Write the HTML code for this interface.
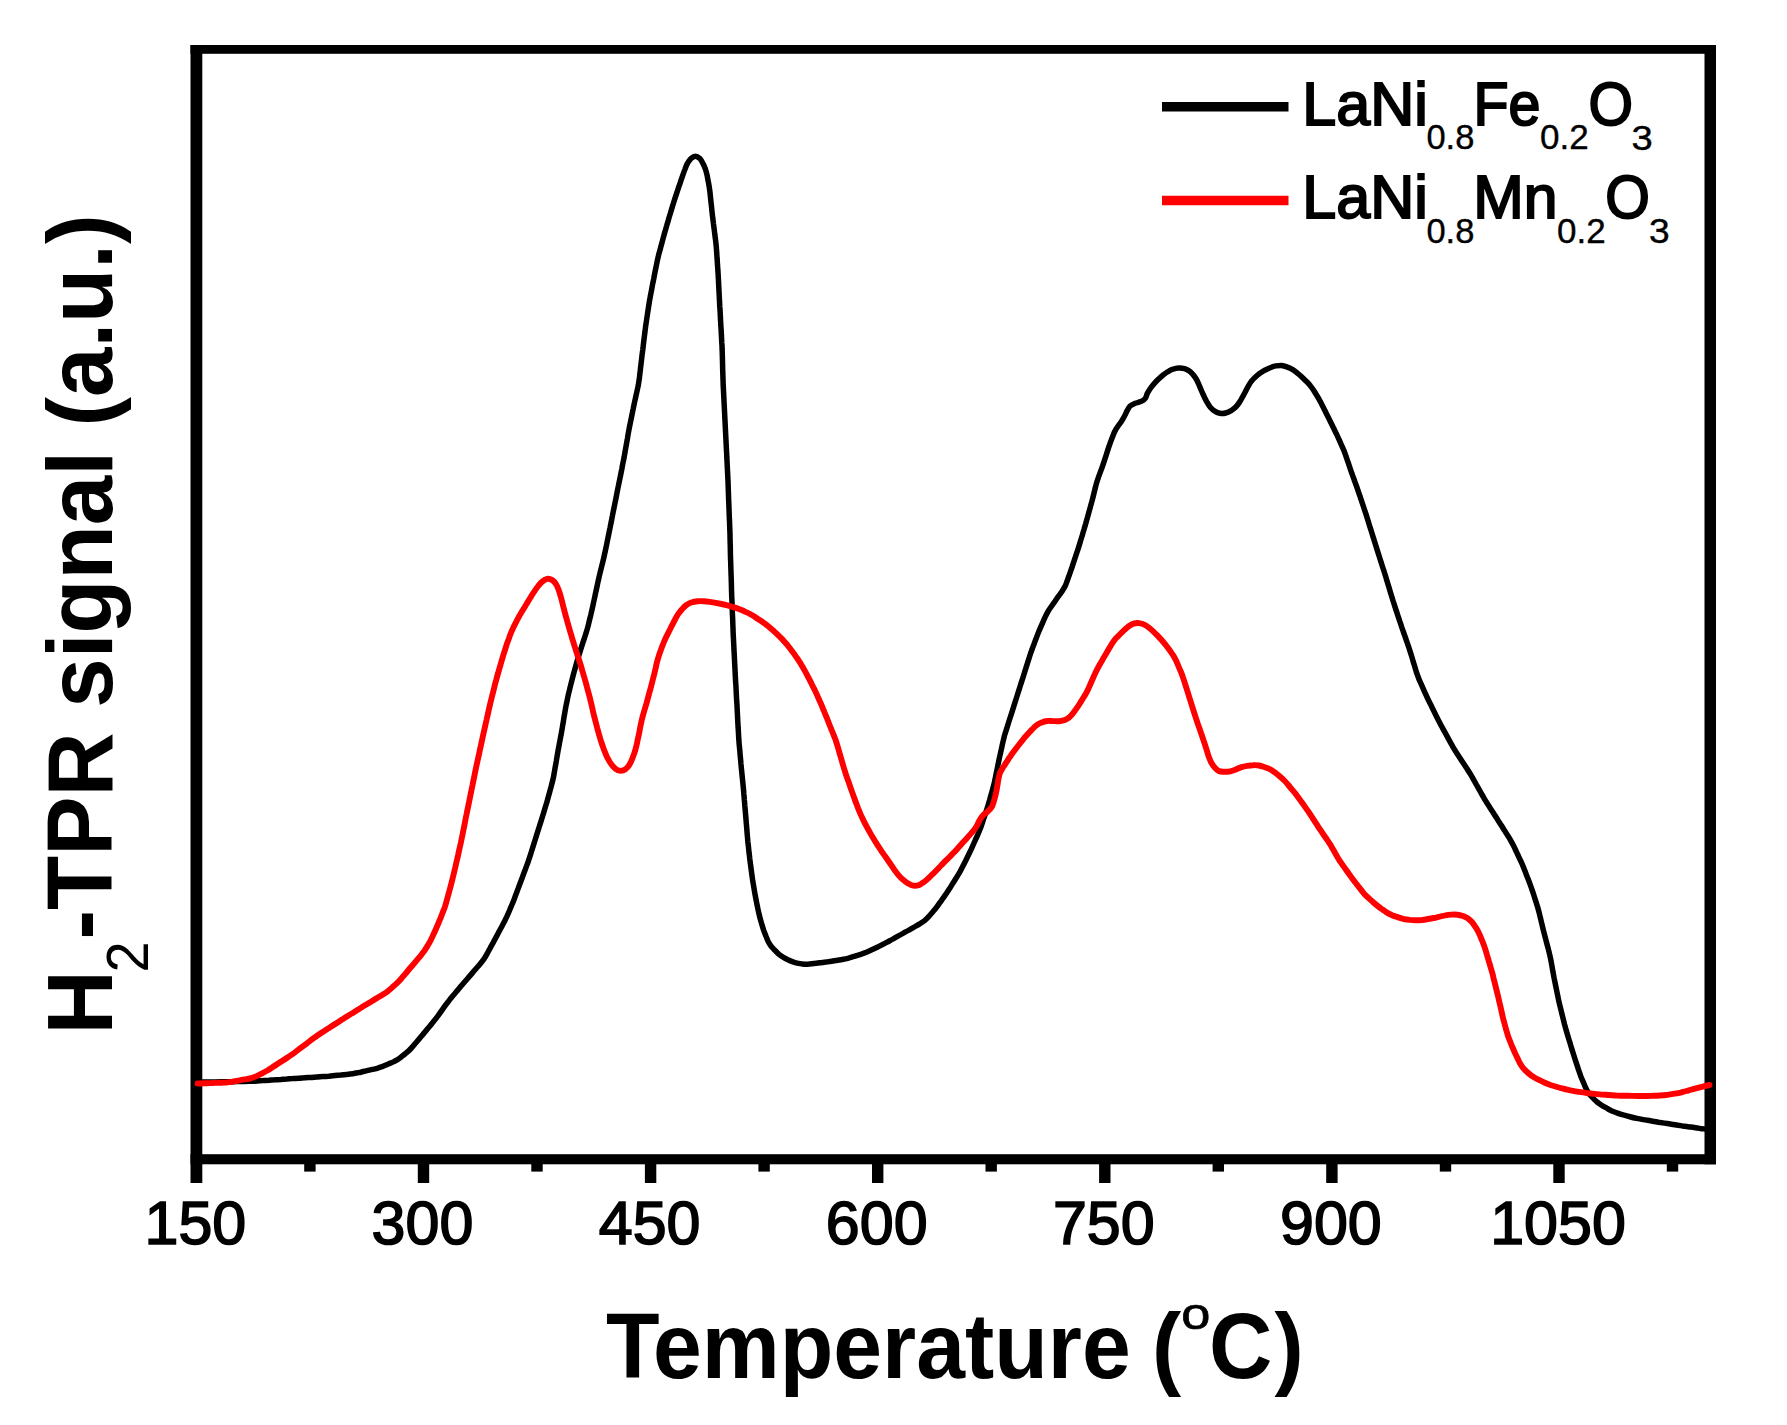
<!DOCTYPE html>
<html lang="en">
<head>
<meta charset="utf-8">
<title>H2-TPR profiles</title>
<style>
html,body{margin:0;padding:0;background:#fff;}
body{width:1787px;height:1425px;overflow:hidden;position:relative;font-family:"Liberation Sans",sans-serif;}
svg{position:absolute;left:0;top:0;display:block;}
text{font-family:"Liberation Sans",sans-serif;fill:#000;}
.tl{font-size:61px;text-anchor:middle;stroke:#000;stroke-width:1.6px;}
.ttl{font-size:88px;font-weight:bold;}
</style>
</head>
<body>
<svg width="1787" height="1425" viewBox="0 0 1787 1425">
<rect x="0" y="0" width="1787" height="1425" fill="#fff"/>
<g fill="#000">
<rect x="190.5" y="45" width="11.8" height="1138"/>
<rect x="1704.5" y="45" width="11.5" height="1119.3"/>
<rect x="190.5" y="45" width="1525.5" height="8.8"/>
<rect x="190.5" y="1154.2" width="1525.5" height="10.1"/>
<rect x="304.2" y="1160" width="11.4" height="11.6" />
<rect x="417.8" y="1160" width="11.4" height="23" />
<rect x="531.3" y="1160" width="11.4" height="11.6" />
<rect x="644.9" y="1160" width="11.4" height="23" />
<rect x="758.4" y="1160" width="11.4" height="11.6" />
<rect x="872.0" y="1160" width="11.4" height="23" />
<rect x="985.5" y="1160" width="11.4" height="11.6" />
<rect x="1099.1" y="1160" width="11.4" height="23" />
<rect x="1212.6" y="1160" width="11.4" height="11.6" />
<rect x="1326.2" y="1160" width="11.4" height="23" />
<rect x="1439.8" y="1160" width="11.4" height="11.6" />
<rect x="1553.3" y="1160" width="11.4" height="23" />
<rect x="1666.8" y="1160" width="11.4" height="11.6" />
</g>
<g fill="none" stroke-linejoin="round" stroke-linecap="round">
<path d="M197.0,1082.0C198.0,1082.0 201.0,1082.0 203.0,1082.0C205.0,1081.9 207.0,1081.9 209.0,1081.9C211.0,1081.9 213.0,1081.9 215.0,1081.9C217.0,1081.9 219.0,1081.9 221.0,1081.8C223.0,1081.8 225.0,1081.8 227.0,1081.8C229.0,1081.8 231.0,1081.7 233.0,1081.7C235.0,1081.6 237.0,1081.6 239.0,1081.5C241.0,1081.5 243.0,1081.4 245.0,1081.4C247.0,1081.3 249.0,1081.3 251.0,1081.2C253.0,1081.2 255.0,1081.1 257.0,1080.9C259.0,1080.8 261.0,1080.7 263.0,1080.6C265.0,1080.4 267.0,1080.3 269.0,1080.2C271.0,1080.0 273.0,1079.9 275.0,1079.8C276.9,1079.6 278.9,1079.5 280.9,1079.4C282.9,1079.2 284.9,1079.1 286.9,1079.0C288.9,1078.8 290.9,1078.7 292.9,1078.6C294.9,1078.4 296.9,1078.3 298.9,1078.2C300.9,1078.1 302.9,1077.9 304.9,1077.8C306.9,1077.7 308.9,1077.5 310.9,1077.4C312.9,1077.3 314.9,1077.1 316.9,1077.0C318.9,1076.9 320.9,1076.7 322.9,1076.6C324.8,1076.5 326.8,1076.3 328.8,1076.2C330.8,1076.0 332.8,1075.8 334.8,1075.6C336.8,1075.4 338.8,1075.2 340.8,1075.0C342.8,1074.8 344.8,1074.6 346.7,1074.4C348.7,1074.2 350.7,1074.0 352.7,1073.7C354.7,1073.4 356.6,1073.0 358.6,1072.6C360.5,1072.2 362.5,1071.7 364.4,1071.3C366.4,1070.8 368.2,1070.4 370.3,1069.9C372.4,1069.4 375.0,1068.9 377.1,1068.3C379.2,1067.7 380.9,1067.1 382.8,1066.4C384.6,1065.7 386.4,1064.8 388.3,1064.0C390.1,1063.2 392.0,1062.5 393.8,1061.6C395.5,1060.7 397.3,1059.8 398.9,1058.7C400.6,1057.6 402.1,1056.3 403.7,1055.0C405.2,1053.8 406.8,1052.5 408.3,1051.2C409.7,1049.8 411.1,1048.4 412.4,1046.9C413.8,1045.4 415.0,1043.8 416.3,1042.3C417.6,1040.8 418.9,1039.2 420.1,1037.7C421.4,1036.2 422.7,1034.6 424.0,1033.1C425.3,1031.6 426.6,1030.0 427.8,1028.5C429.1,1027.0 430.4,1025.4 431.7,1023.9C432.9,1022.3 434.2,1020.8 435.4,1019.2C436.7,1017.6 437.8,1016.0 439.0,1014.4C440.1,1012.7 441.3,1011.1 442.5,1009.5C443.6,1007.8 444.8,1006.2 445.9,1004.6C447.1,1003.0 448.4,1001.4 449.6,999.8C450.9,998.3 452.2,996.8 453.4,995.2C454.7,993.7 456.0,992.2 457.3,990.6C458.6,989.1 459.8,987.6 461.1,986.0C462.4,984.5 463.7,983.0 465.0,981.5C466.3,980.0 467.7,978.4 469.0,976.9C470.3,975.4 471.6,973.9 472.9,972.4C474.2,970.9 475.5,969.3 476.8,967.8C478.1,966.3 479.4,964.8 480.7,963.2C481.9,961.7 483.2,960.2 484.3,958.5C485.4,956.9 486.4,955.1 487.3,953.4C488.3,951.6 489.2,949.8 490.2,948.1C491.1,946.3 492.1,944.6 493.1,942.8C494.0,941.0 495.0,939.3 495.9,937.5C496.8,935.8 497.8,934.0 498.7,932.2C499.7,930.5 500.6,928.7 501.6,926.9C502.5,925.2 503.5,923.4 504.4,921.6C505.3,919.9 506.1,918.1 507.0,916.2C507.8,914.4 508.6,912.6 509.4,910.7C510.1,908.9 510.9,907.1 511.7,905.2C512.5,903.4 513.3,901.5 514.0,899.7C514.7,897.8 515.4,895.9 516.1,894.1C516.8,892.2 517.5,890.3 518.2,888.4C518.9,886.6 519.6,884.7 520.3,882.8C521.0,881.0 521.7,879.1 522.4,877.2C523.1,875.3 523.8,873.4 524.5,871.6C525.2,869.7 525.9,867.8 526.6,865.9C527.3,864.1 528.0,862.2 528.6,860.3C529.3,858.4 529.9,856.5 530.5,854.6C531.1,852.7 531.7,850.8 532.3,848.9C532.9,847.0 533.5,845.1 534.1,843.1C534.7,841.2 535.3,839.3 535.9,837.4C536.5,835.5 537.1,833.6 537.7,831.7C538.3,829.8 538.9,827.9 539.5,826.0C540.1,824.1 540.7,822.2 541.3,820.3C541.9,818.3 542.5,816.4 543.1,814.5C543.7,812.6 544.2,810.7 544.8,808.8C545.4,806.9 546.0,805.0 546.6,803.0C547.1,801.1 547.7,799.2 548.2,797.3C548.8,795.3 549.3,793.4 549.8,791.5C550.3,789.6 550.8,787.8 551.4,785.7C551.9,783.6 552.6,781.0 553.1,778.9C553.6,776.8 553.9,775.0 554.2,773.0C554.6,771.1 554.9,769.1 555.2,767.1C555.6,765.1 555.9,763.2 556.3,761.2C556.6,759.2 556.9,757.3 557.3,755.3C557.6,753.3 558.0,751.3 558.3,749.4C558.7,747.4 559.1,745.4 559.4,743.5C559.8,741.5 560.2,739.5 560.5,737.6C560.9,735.6 561.3,733.6 561.6,731.7C562.0,729.7 562.3,727.7 562.6,725.8C563.0,723.8 563.3,721.8 563.6,719.8C563.9,717.9 564.2,715.9 564.6,713.9C564.9,711.9 565.3,710.0 565.6,708.0C566.0,706.0 566.4,704.1 566.8,702.1C567.2,700.2 567.6,698.2 568.0,696.2C568.4,694.3 568.9,692.4 569.4,690.4C569.8,688.5 570.3,686.5 570.8,684.6C571.3,682.6 571.8,680.7 572.3,678.8C572.8,676.8 573.3,674.9 573.8,673.0C574.4,671.0 574.9,669.1 575.4,667.2C575.9,665.3 576.5,663.3 577.0,661.4C577.6,659.5 578.2,657.6 578.8,655.7C579.4,653.8 580.0,651.9 580.6,649.9C581.2,648.0 581.8,646.1 582.4,644.2C583.0,642.3 583.6,640.4 584.3,638.5C584.9,636.6 585.5,634.7 586.1,632.8C586.7,630.9 587.3,629.0 587.8,627.1C588.3,625.1 588.8,623.2 589.2,621.2C589.7,619.3 590.2,617.3 590.7,615.4C591.1,613.5 591.6,611.5 592.0,609.6C592.5,607.6 592.9,605.7 593.3,603.7C593.7,601.7 594.2,599.8 594.6,597.8C595.0,595.9 595.4,593.9 595.8,592.0C596.3,590.0 596.7,588.1 597.1,586.1C597.5,584.1 597.9,582.2 598.4,580.2C598.8,578.3 599.2,576.3 599.7,574.4C600.1,572.4 600.7,570.5 601.1,568.6C601.6,566.6 602.1,564.7 602.6,562.7C603.1,560.8 603.6,558.9 604.0,556.9C604.4,555.0 604.8,553.0 605.3,551.0C605.7,549.1 606.1,547.1 606.5,545.2C606.9,543.2 607.3,541.3 607.7,539.3C608.1,537.3 608.5,535.4 608.9,533.4C609.3,531.5 609.7,529.5 610.1,527.5C610.5,525.6 610.9,523.6 611.3,521.6C611.7,519.7 612.0,517.7 612.4,515.8C612.8,513.8 613.2,511.8 613.6,509.9C614.0,507.9 614.4,506.0 614.8,504.0C615.2,502.0 615.6,500.1 616.0,498.1C616.4,496.2 616.8,494.2 617.1,492.2C617.5,490.3 617.9,488.3 618.3,486.3C618.7,484.4 619.1,482.4 619.5,480.5C619.9,478.5 620.3,476.5 620.7,474.6C621.1,472.6 621.5,470.7 621.9,468.7C622.2,466.7 622.6,464.8 623.0,462.8C623.4,460.8 623.8,458.9 624.2,456.9C624.5,455.0 624.9,453.0 625.2,451.0C625.6,449.0 625.9,447.2 626.3,445.1C626.6,443.0 627.1,440.3 627.5,438.2C627.8,436.1 628.1,434.3 628.5,432.3C628.9,430.3 629.2,428.4 629.6,426.4C630.0,424.4 630.4,422.5 630.8,420.5C631.2,418.6 631.6,416.6 632.0,414.6C632.4,412.7 632.8,410.7 633.2,408.8C633.6,406.8 634.0,404.8 634.4,402.9C634.9,400.9 635.3,399.0 635.7,397.0C636.1,395.1 636.6,393.1 637.0,391.2C637.4,389.2 637.9,387.3 638.3,385.3C638.6,383.3 638.9,381.4 639.2,379.4C639.5,377.4 639.7,375.4 639.9,373.4C640.2,371.4 640.4,369.5 640.6,367.5C640.9,365.5 641.1,363.5 641.3,361.5C641.6,359.5 641.8,357.5 642.0,355.5C642.3,353.6 642.5,351.6 642.8,349.6C643.0,347.6 643.3,345.6 643.5,343.6C643.7,341.6 644.0,339.7 644.2,337.7C644.5,335.7 644.7,333.7 645.0,331.7C645.2,329.7 645.5,327.8 645.7,325.8C646.0,323.8 646.3,321.8 646.6,319.8C646.9,317.9 647.2,315.9 647.5,313.9C647.8,311.9 648.1,309.9 648.4,308.0C648.7,306.0 649.0,304.0 649.3,302.0C649.7,300.1 650.0,298.1 650.4,296.1C650.7,294.2 651.1,292.2 651.5,290.2C651.9,288.3 652.2,286.3 652.6,284.3C653.0,282.4 653.4,280.4 653.8,278.5C654.1,276.5 654.5,274.5 654.9,272.6C655.3,270.6 655.7,268.7 656.1,266.7C656.5,264.7 656.9,262.8 657.3,260.8C657.7,258.9 658.2,256.9 658.6,255.0C659.1,253.0 659.7,251.1 660.2,249.2C660.7,247.2 661.2,245.3 661.8,243.4C662.3,241.4 662.8,239.5 663.3,237.6C663.9,235.7 664.4,233.7 664.9,231.8C665.5,229.9 666.0,227.9 666.6,226.0C667.1,224.1 667.7,222.2 668.3,220.3C668.8,218.4 669.4,216.4 670.0,214.5C670.6,212.6 671.1,210.7 671.7,208.8C672.3,206.9 672.9,204.9 673.5,203.0C674.1,201.1 674.7,199.2 675.3,197.3C676.0,195.4 676.6,193.5 677.2,191.6C677.9,189.7 678.5,187.8 679.1,185.9C679.8,184.1 680.4,182.2 681.0,180.3C681.7,178.4 682.4,176.5 683.0,174.6C683.7,172.7 684.3,170.8 685.1,169.0C685.8,167.1 686.4,165.2 687.4,163.5C688.3,161.8 689.5,159.9 690.8,158.7C692.2,157.5 693.9,156.2 695.4,156.2C696.9,156.2 698.6,157.4 699.9,158.6C701.2,159.8 702.1,161.8 703.0,163.5C703.9,165.3 704.7,167.1 705.4,169.0C706.0,170.9 706.5,172.8 707.0,174.8C707.4,176.7 707.7,178.7 708.1,180.7C708.5,182.6 708.8,184.6 709.2,186.6C709.5,188.5 709.7,190.5 710.0,192.5C710.2,194.5 710.4,196.3 710.6,198.5C710.8,200.6 711.1,203.3 711.4,205.4C711.6,207.6 711.8,209.4 712.0,211.4C712.2,213.4 712.4,215.4 712.7,217.4C712.9,219.3 713.2,221.3 713.4,223.3C713.7,225.3 713.9,227.3 714.2,229.3C714.4,231.3 714.7,233.2 714.9,235.2C715.2,237.2 715.4,239.2 715.7,241.2C715.9,243.2 716.1,245.1 716.3,247.1C716.5,249.1 716.6,251.1 716.7,253.1C716.9,255.1 717.0,257.1 717.1,259.1C717.3,261.1 717.4,263.1 717.5,265.1C717.7,267.1 717.8,269.1 717.9,271.1C718.1,273.1 718.2,275.1 718.3,277.1C718.4,279.1 718.5,281.1 718.6,283.1C718.7,285.1 718.8,287.1 718.9,289.1C719.0,291.1 719.1,293.1 719.2,295.1C719.3,297.0 719.4,299.0 719.5,301.0C719.6,303.0 719.7,305.0 719.8,307.0C720.0,309.0 720.1,311.0 720.2,313.0C720.3,315.0 720.4,317.0 720.5,319.0C720.6,321.0 720.7,323.0 720.8,325.0C720.9,327.0 721.1,329.0 721.2,331.0C721.3,333.0 721.4,335.0 721.5,337.0C721.6,339.0 721.7,341.0 721.8,343.0C722.0,345.0 722.1,347.0 722.1,349.0C722.2,351.0 722.3,353.0 722.3,355.0C722.4,357.0 722.4,359.0 722.5,361.0C722.5,363.0 722.6,365.0 722.6,367.0C722.7,369.0 722.7,371.0 722.8,373.0C722.9,375.0 722.9,377.0 723.0,379.0C723.1,381.0 723.1,383.0 723.2,385.0C723.3,387.0 723.4,389.0 723.5,391.0C723.6,393.0 723.7,395.0 723.8,396.9C723.9,398.9 724.0,400.9 724.1,402.9C724.2,404.9 724.3,406.9 724.4,408.9C724.5,410.9 724.6,412.9 724.7,414.9C724.8,416.9 724.9,418.9 725.0,420.9C725.1,422.9 725.2,424.9 725.3,426.9C725.4,428.9 725.5,430.9 725.6,432.9C725.7,434.9 725.8,436.9 725.9,438.9C726.0,440.9 726.1,442.9 726.2,444.9C726.3,446.9 726.4,448.9 726.5,450.9C726.6,452.9 726.8,454.9 726.8,456.9C726.9,458.9 727.0,460.9 727.1,462.9C727.2,464.9 727.3,466.9 727.4,468.9C727.5,470.9 727.6,472.9 727.7,474.9C727.8,476.9 727.9,478.9 728.0,480.9C728.1,482.9 728.1,484.8 728.2,486.8C728.3,488.8 728.3,490.8 728.4,492.8C728.5,494.8 728.6,496.8 728.6,498.8C728.7,500.8 728.8,502.8 728.9,504.8C728.9,506.8 729.0,508.8 729.1,510.8C729.2,512.8 729.2,514.8 729.3,516.8C729.4,518.8 729.5,520.8 729.6,522.8C729.6,524.8 729.7,526.8 729.8,528.8C729.9,530.8 729.9,532.8 730.0,534.8C730.0,536.8 730.1,538.8 730.1,540.8C730.2,542.8 730.2,544.6 730.3,546.8C730.3,549.0 730.4,551.6 730.4,553.8C730.5,556.0 730.5,557.8 730.6,559.8C730.7,561.8 730.7,563.8 730.8,565.8C730.8,567.8 730.9,569.8 731.0,571.8C731.0,573.8 731.1,575.8 731.2,577.8C731.2,579.8 731.3,581.8 731.4,583.8C731.4,585.8 731.5,587.8 731.5,589.8C731.6,591.8 731.7,593.8 731.7,595.8C731.8,597.8 731.9,599.8 732.0,601.8C732.0,603.8 732.1,605.8 732.2,607.8C732.3,609.8 732.3,611.8 732.4,613.8C732.5,615.8 732.6,617.8 732.7,619.8C732.7,621.8 732.8,623.8 732.9,625.8C733.0,627.8 733.1,629.8 733.1,631.8C733.2,633.8 733.3,635.8 733.4,637.8C733.5,639.8 733.6,641.8 733.7,643.8C733.8,645.8 733.9,647.8 734.0,649.8C734.1,651.8 734.2,653.7 734.3,655.7C734.4,657.7 734.5,659.7 734.6,661.7C734.7,663.7 734.8,665.7 734.9,667.7C735.0,669.7 735.1,671.7 735.2,673.7C735.3,675.7 735.4,677.7 735.5,679.7C735.6,681.7 735.8,683.7 735.9,685.7C736.0,687.7 736.1,689.7 736.2,691.7C736.3,693.7 736.4,695.7 736.5,697.7C736.6,699.7 736.8,701.7 736.9,703.7C737.0,705.7 737.1,707.7 737.2,709.7C737.3,711.7 737.4,713.7 737.5,715.7C737.6,717.7 737.7,719.7 737.8,721.7C737.9,723.7 738.0,725.7 738.1,727.6C738.3,729.6 738.4,731.6 738.5,733.6C738.6,735.6 738.7,737.6 738.8,739.6C739.0,741.6 739.1,743.6 739.3,745.6C739.5,747.6 739.7,749.6 739.9,751.6C740.0,753.6 740.2,755.6 740.4,757.6C740.6,759.6 740.8,761.5 740.9,763.5C741.1,765.5 741.3,767.5 741.5,769.5C741.7,771.5 741.9,773.5 742.1,775.5C742.3,777.5 742.5,779.5 742.7,781.5C742.9,783.4 743.1,785.4 743.3,787.4C743.5,789.4 743.7,791.4 743.8,793.4C744.0,795.4 744.2,797.4 744.3,799.4C744.5,801.4 744.7,803.4 744.8,805.4C745.0,807.4 745.2,809.3 745.3,811.3C745.5,813.3 745.7,815.3 745.8,817.3C746.0,819.3 746.2,821.3 746.3,823.3C746.5,825.3 746.7,827.3 746.8,829.3C747.0,831.3 747.1,833.3 747.3,835.3C747.5,837.3 747.7,839.2 747.8,841.2C748.0,843.2 748.3,845.2 748.5,847.2C748.7,849.2 748.9,851.2 749.1,853.2C749.4,855.2 749.6,857.1 749.8,859.1C750.1,861.1 750.3,863.1 750.6,865.1C750.8,867.1 751.1,869.0 751.4,871.0C751.6,873.0 751.9,875.0 752.2,877.0C752.4,879.0 752.7,880.9 753.1,882.9C753.4,884.9 753.7,886.9 754.1,888.8C754.4,890.8 754.7,892.6 755.1,894.7C755.5,896.9 756.0,899.5 756.4,901.6C756.8,903.7 757.2,905.5 757.6,907.5C758.0,909.4 758.4,911.4 758.9,913.4C759.3,915.3 759.8,917.2 760.3,919.2C760.9,921.1 761.4,923.0 762.0,924.9C762.6,926.8 763.2,928.8 763.8,930.6C764.5,932.5 765.3,934.4 766.0,936.2C766.8,938.1 767.4,940.0 768.3,941.8C769.2,943.5 770.3,945.2 771.5,946.7C772.7,948.3 774.2,949.6 775.6,951.0C777.0,952.4 778.4,953.9 780.0,955.1C781.5,956.3 783.3,957.3 785.0,958.3C786.7,959.2 788.5,960.1 790.4,960.9C792.2,961.7 794.1,962.3 796.0,962.8C797.9,963.3 799.9,963.6 801.9,963.9C803.9,964.1 805.8,964.3 807.8,964.2C809.8,964.2 811.8,963.8 813.8,963.6C815.7,963.4 817.7,963.1 819.7,962.8C821.7,962.6 823.7,962.3 825.7,962.1C827.6,961.8 829.6,961.5 831.6,961.2C833.6,960.9 835.5,960.5 837.5,960.2C839.5,959.9 841.5,959.6 843.4,959.2C845.4,958.9 847.3,958.4 849.3,957.9C851.2,957.4 853.1,956.7 855.0,956.1C856.9,955.5 858.8,954.9 860.7,954.3C862.6,953.7 864.5,953.1 866.4,952.3C868.2,951.6 870.0,950.7 871.8,949.8C873.6,949.0 875.4,948.1 877.2,947.2C879.0,946.3 880.8,945.4 882.6,944.5C884.4,943.6 886.1,942.7 887.9,941.8C889.7,940.8 891.4,939.8 893.2,938.9C894.9,937.9 896.6,936.9 898.4,935.9C900.1,935.0 901.9,934.0 903.6,933.0C905.4,932.0 907.1,931.0 908.9,930.1C910.6,929.1 912.3,928.1 914.1,927.1C915.8,926.1 917.6,925.1 919.3,924.1C921.0,923.1 922.7,922.1 924.3,920.9C925.8,919.7 927.2,918.2 928.6,916.8C929.9,915.3 931.2,913.8 932.5,912.3C933.8,910.7 935.1,909.2 936.3,907.6C937.5,906.0 938.6,904.4 939.8,902.7C941.0,901.1 942.1,899.5 943.3,897.9C944.4,896.2 945.6,894.6 946.7,892.9C947.9,891.3 948.9,889.6 950.0,887.9C951.1,886.2 952.1,884.5 953.2,882.8C954.3,881.1 955.3,879.4 956.4,877.7C957.4,876.0 958.5,874.3 959.5,872.6C960.5,870.9 961.4,869.1 962.3,867.3C963.2,865.6 964.1,863.8 965.0,862.0C965.9,860.2 966.8,858.4 967.7,856.6C968.6,854.8 969.5,853.0 970.3,851.2C971.2,849.4 972.0,847.6 972.8,845.7C973.6,843.9 974.4,842.1 975.2,840.3C976.0,838.4 976.9,836.6 977.7,834.8C978.5,832.9 979.3,831.1 980.0,829.3C980.8,827.4 981.4,825.5 982.1,823.6C982.7,821.7 983.3,819.8 984.0,817.9C984.6,816.0 985.2,814.3 985.9,812.2C986.6,810.2 987.4,807.7 988.0,805.6C988.7,803.5 989.1,801.7 989.7,799.8C990.2,797.9 990.8,796.0 991.3,794.0C991.8,792.1 992.4,790.2 992.9,788.3C993.4,786.3 993.9,784.4 994.4,782.4C994.8,780.5 995.2,778.5 995.6,776.6C996.0,774.6 996.4,772.7 996.8,770.7C997.2,768.7 997.6,766.8 998.0,764.8C998.4,762.9 998.8,760.9 999.2,758.9C999.6,757.0 1000.1,755.0 1000.5,753.1C1000.9,751.1 1001.4,749.2 1001.8,747.2C1002.2,745.3 1002.6,743.3 1003.1,741.4C1003.6,739.4 1004.0,737.5 1004.5,735.5C1005.1,733.6 1005.7,731.7 1006.3,729.8C1006.9,727.9 1007.5,726.0 1008.1,724.1C1008.7,722.2 1009.3,720.3 1009.9,718.4C1010.6,716.5 1011.2,714.6 1011.8,712.7C1012.4,710.7 1013.0,708.8 1013.6,706.9C1014.2,705.0 1014.8,703.1 1015.4,701.2C1016.0,699.3 1016.6,697.4 1017.2,695.5C1017.8,693.6 1018.4,691.7 1019.0,689.8C1019.6,687.9 1020.2,686.0 1020.8,684.1C1021.4,682.1 1022.1,680.2 1022.7,678.3C1023.3,676.4 1023.9,674.5 1024.5,672.6C1025.1,670.7 1025.7,668.8 1026.3,666.9C1026.9,665.0 1027.5,663.1 1028.1,661.2C1028.7,659.3 1029.3,657.4 1029.9,655.5C1030.5,653.6 1031.2,651.7 1031.9,649.8C1032.5,647.9 1033.3,646.0 1034.0,644.2C1034.7,642.3 1035.4,640.4 1036.1,638.6C1036.8,636.7 1037.5,634.8 1038.2,633.0C1039.0,631.1 1039.8,629.3 1040.6,627.4C1041.4,625.6 1042.2,623.8 1043.0,621.9C1043.8,620.1 1044.6,618.3 1045.4,616.5C1046.3,614.7 1047.2,612.9 1048.2,611.1C1049.2,609.4 1050.4,607.8 1051.5,606.2C1052.6,604.5 1053.8,602.9 1055.0,601.3C1056.1,599.6 1057.3,598.0 1058.4,596.3C1059.6,594.7 1060.8,593.1 1061.9,591.4C1062.9,589.8 1064.1,588.1 1065.0,586.4C1065.9,584.6 1066.5,582.7 1067.2,580.8C1067.9,578.9 1068.5,577.0 1069.2,575.2C1069.9,573.3 1070.6,571.4 1071.2,569.5C1071.9,567.6 1072.5,565.7 1073.1,563.8C1073.8,561.9 1074.4,560.0 1075.0,558.1C1075.7,556.2 1076.3,554.3 1076.9,552.4C1077.5,550.5 1078.2,548.6 1078.8,546.7C1079.4,544.8 1080.0,542.9 1080.5,541.0C1081.1,539.1 1081.7,537.2 1082.3,535.2C1082.8,533.3 1083.4,531.4 1084.0,529.5C1084.5,527.6 1085.1,525.7 1085.7,523.7C1086.2,521.8 1086.8,519.9 1087.3,518.0C1087.9,516.0 1088.4,514.1 1088.9,512.2C1089.5,510.3 1090.0,508.3 1090.5,506.4C1091.0,504.5 1091.6,502.5 1092.1,500.6C1092.6,498.7 1093.1,496.7 1093.6,494.8C1094.1,492.9 1094.5,490.9 1095.0,489.0C1095.5,487.0 1095.9,485.2 1096.5,483.2C1097.1,481.1 1098.0,478.6 1098.7,476.5C1099.4,474.5 1100.1,472.8 1100.8,470.9C1101.5,469.0 1102.2,467.1 1102.8,465.3C1103.5,463.4 1104.1,461.5 1104.7,459.6C1105.4,457.7 1106.0,455.8 1106.6,453.9C1107.2,451.9 1107.8,450.0 1108.4,448.1C1109.0,446.2 1109.7,444.4 1110.4,442.5C1111.0,440.6 1111.8,438.7 1112.5,436.9C1113.3,435.0 1113.9,433.1 1114.8,431.4C1115.7,429.6 1116.8,427.9 1117.9,426.3C1119.0,424.6 1120.3,423.1 1121.4,421.4C1122.5,419.7 1123.5,418.0 1124.4,416.3C1125.4,414.5 1126.1,412.6 1127.0,410.9C1128.0,409.2 1128.7,407.3 1130.1,406.0C1131.4,404.8 1133.3,404.1 1135.1,403.3C1136.9,402.6 1139.1,402.4 1140.8,401.6C1142.4,400.8 1144.0,400.0 1145.1,398.6C1146.2,397.2 1146.5,395.1 1147.4,393.3C1148.3,391.6 1149.4,389.9 1150.5,388.3C1151.6,386.7 1152.9,385.1 1154.2,383.6C1155.5,382.1 1156.9,380.7 1158.3,379.3C1159.8,377.9 1161.2,376.5 1162.8,375.3C1164.4,374.1 1166.0,372.9 1167.7,371.8C1169.4,370.8 1171.1,369.8 1173.0,369.2C1174.8,368.5 1176.8,368.1 1178.7,368.0C1180.7,367.9 1182.7,368.1 1184.5,368.6C1186.4,369.2 1188.1,370.1 1189.7,371.3C1191.2,372.4 1192.6,374.0 1193.8,375.5C1195.0,377.1 1196.1,378.7 1197.0,380.5C1198.0,382.2 1198.6,384.1 1199.4,385.9C1200.2,387.8 1201.0,389.6 1201.8,391.5C1202.6,393.3 1203.5,395.1 1204.3,396.9C1205.2,398.7 1206.0,400.5 1207.0,402.2C1208.0,404.0 1209.0,405.7 1210.3,407.2C1211.6,408.7 1213.0,410.1 1214.7,411.1C1216.3,412.1 1218.2,413.0 1220.0,413.3C1221.9,413.6 1223.9,413.5 1225.7,413.0C1227.5,412.6 1229.4,411.7 1231.1,410.7C1232.7,409.6 1234.4,408.4 1235.8,407.0C1237.2,405.7 1238.3,404.0 1239.4,402.4C1240.5,400.8 1241.4,399.0 1242.4,397.2C1243.4,395.5 1244.3,393.7 1245.3,391.9C1246.2,390.2 1247.0,388.3 1248.0,386.6C1249.0,384.9 1249.9,383.1 1251.1,381.6C1252.3,380.0 1253.8,378.6 1255.2,377.2C1256.7,375.8 1258.1,374.5 1259.8,373.4C1261.4,372.2 1263.1,371.2 1264.8,370.2C1266.6,369.3 1268.4,368.4 1270.2,367.7C1272.1,367.0 1274.0,366.3 1275.9,365.9C1277.8,365.6 1279.8,365.3 1281.7,365.4C1283.6,365.6 1285.5,366.4 1287.3,367.1C1289.2,367.8 1291.0,368.6 1292.7,369.6C1294.4,370.6 1295.9,371.9 1297.4,373.2C1299.0,374.5 1300.5,375.8 1302.0,377.1C1303.4,378.5 1304.9,379.9 1306.3,381.3C1307.7,382.7 1309.1,384.1 1310.3,385.7C1311.6,387.2 1312.7,388.9 1313.8,390.6C1314.9,392.2 1315.8,393.8 1317.0,395.7C1318.1,397.5 1319.4,399.8 1320.4,401.7C1321.5,403.6 1322.2,405.3 1323.1,407.1C1324.0,408.9 1324.9,410.7 1325.8,412.4C1326.7,414.2 1327.6,416.0 1328.5,417.8C1329.4,419.6 1330.3,421.4 1331.2,423.2C1332.1,425.0 1333.0,426.8 1333.8,428.6C1334.7,430.4 1335.6,432.2 1336.5,434.0C1337.3,435.8 1338.1,437.6 1339.0,439.4C1339.8,441.2 1340.6,443.1 1341.4,444.9C1342.3,446.7 1343.1,448.5 1343.9,450.4C1344.6,452.2 1345.3,454.1 1345.9,456.0C1346.6,457.9 1347.2,459.8 1347.9,461.7C1348.5,463.6 1349.1,465.5 1349.8,467.4C1350.4,469.2 1351.1,471.1 1351.7,473.0C1352.4,474.9 1353.1,476.8 1353.8,478.7C1354.4,480.6 1355.1,482.4 1355.8,484.3C1356.5,486.2 1357.2,488.1 1357.8,490.0C1358.5,491.9 1359.1,493.7 1359.8,495.6C1360.4,497.5 1361.0,499.4 1361.7,501.3C1362.3,503.2 1363.0,505.1 1363.6,507.0C1364.2,508.9 1364.8,510.8 1365.5,512.7C1366.1,514.6 1366.7,516.5 1367.3,518.4C1367.9,520.3 1368.5,522.2 1369.1,524.2C1369.7,526.1 1370.3,528.0 1370.9,529.9C1371.5,531.8 1372.1,533.7 1372.7,535.6C1373.3,537.5 1373.9,539.4 1374.5,541.3C1375.1,543.2 1375.7,545.1 1376.3,547.1C1376.9,549.0 1377.5,550.9 1378.1,552.8C1378.7,554.7 1379.3,556.6 1379.9,558.5C1380.5,560.4 1381.1,562.3 1381.7,564.2C1382.3,566.1 1382.9,568.0 1383.6,569.9C1384.2,571.8 1384.8,573.7 1385.4,575.6C1386.0,577.6 1386.6,579.5 1387.1,581.4C1387.7,583.3 1388.3,585.2 1388.9,587.1C1389.5,589.0 1390.0,591.0 1390.6,592.9C1391.2,594.8 1391.8,596.7 1392.4,598.6C1392.9,600.5 1393.5,602.4 1394.2,604.3C1394.8,606.2 1395.4,608.1 1396.0,610.0C1396.7,611.9 1397.3,613.8 1397.9,615.7C1398.6,617.6 1399.2,619.5 1399.8,621.4C1400.5,623.3 1401.1,625.2 1401.7,627.1C1402.4,629.0 1403.1,630.9 1403.7,632.8C1404.4,634.7 1405.0,636.6 1405.7,638.4C1406.3,640.3 1407.0,642.2 1407.7,644.1C1408.3,646.0 1409.0,647.9 1409.6,649.8C1410.2,651.7 1410.8,653.6 1411.4,655.5C1412.0,657.4 1412.6,659.3 1413.1,661.3C1413.7,663.2 1414.3,665.1 1414.9,667.0C1415.4,668.9 1416.0,670.8 1416.6,672.7C1417.2,674.6 1417.9,676.5 1418.7,678.4C1419.4,680.2 1420.3,682.0 1421.1,683.9C1421.9,685.7 1422.7,687.5 1423.5,689.3C1424.3,691.2 1425.1,693.0 1426.0,694.8C1426.8,696.6 1427.6,698.5 1428.5,700.3C1429.4,702.1 1430.3,703.8 1431.2,705.6C1432.0,707.4 1432.9,709.2 1433.8,711.0C1434.7,712.8 1435.6,714.6 1436.5,716.4C1437.4,718.2 1438.2,719.8 1439.2,721.7C1440.2,723.7 1441.4,726.0 1442.5,727.9C1443.5,729.8 1444.4,731.4 1445.4,733.2C1446.3,734.9 1447.3,736.7 1448.2,738.4C1449.2,740.2 1450.2,742.0 1451.1,743.7C1452.1,745.4 1453.1,747.2 1454.1,748.9C1455.1,750.6 1456.2,752.3 1457.3,754.0C1458.4,755.7 1459.5,757.3 1460.6,759.0C1461.7,760.7 1462.8,762.4 1463.9,764.0C1465.0,765.7 1466.1,767.4 1467.2,769.0C1468.2,770.7 1469.3,772.4 1470.4,774.1C1471.4,775.8 1472.4,777.6 1473.4,779.3C1474.4,781.0 1475.4,782.8 1476.3,784.5C1477.3,786.3 1478.3,788.0 1479.3,789.8C1480.2,791.5 1481.2,793.3 1482.2,795.0C1483.2,796.7 1484.2,798.5 1485.2,800.2C1486.2,801.9 1487.3,803.6 1488.4,805.3C1489.5,807.0 1490.6,808.6 1491.6,810.3C1492.7,812.0 1493.8,813.7 1494.9,815.4C1496.0,817.0 1497.1,818.7 1498.1,820.4C1499.2,822.1 1500.3,823.8 1501.4,825.5C1502.4,827.2 1503.5,828.9 1504.5,830.6C1505.6,832.3 1506.7,833.9 1507.7,835.6C1508.8,837.3 1509.9,839.0 1510.9,840.8C1511.8,842.5 1512.8,844.3 1513.7,846.0C1514.6,847.8 1515.4,849.7 1516.3,851.5C1517.1,853.3 1518.0,855.1 1518.8,856.9C1519.7,858.7 1520.6,860.5 1521.4,862.3C1522.2,864.1 1522.9,866.0 1523.7,867.8C1524.4,869.7 1525.2,871.6 1525.9,873.4C1526.6,875.3 1527.3,877.2 1528.1,879.0C1528.8,880.9 1529.5,882.7 1530.2,884.6C1530.9,886.5 1531.6,888.4 1532.2,890.3C1532.9,892.2 1533.5,894.1 1534.1,896.0C1534.7,897.9 1535.3,899.8 1535.9,901.7C1536.5,903.6 1537.2,905.5 1537.7,907.4C1538.3,909.3 1538.8,911.3 1539.3,913.2C1539.7,915.1 1540.2,917.1 1540.7,919.0C1541.1,921.0 1541.6,922.9 1542.1,924.9C1542.5,926.8 1543.0,928.8 1543.5,930.7C1544.0,932.6 1544.5,934.6 1545.0,936.5C1545.5,938.4 1546.0,940.4 1546.5,942.3C1547.0,944.2 1547.5,946.2 1548.1,948.1C1548.6,950.1 1549.1,952.0 1549.5,953.9C1550.0,955.9 1550.4,957.8 1550.8,959.8C1551.2,961.8 1551.5,963.7 1551.9,965.7C1552.2,967.7 1552.6,969.6 1552.9,971.6C1553.3,973.6 1553.7,975.5 1554.0,977.5C1554.4,979.5 1554.8,981.4 1555.2,983.4C1555.6,985.3 1556.0,987.3 1556.4,989.3C1556.8,991.2 1557.2,993.2 1557.6,995.1C1558.0,997.1 1558.4,999.1 1558.8,1001.0C1559.2,1003.0 1559.7,1004.9 1560.2,1006.9C1560.7,1008.8 1561.2,1010.7 1561.6,1012.7C1562.1,1014.6 1562.6,1016.6 1563.1,1018.5C1563.6,1020.4 1564.0,1022.4 1564.5,1024.3C1565.1,1026.3 1565.6,1028.2 1566.1,1030.1C1566.7,1032.0 1567.3,1033.9 1567.8,1035.9C1568.4,1037.8 1568.9,1039.5 1569.6,1041.6C1570.2,1043.7 1571.0,1046.2 1571.6,1048.3C1572.2,1050.4 1572.8,1052.1 1573.4,1054.0C1574.0,1055.9 1574.6,1057.8 1575.2,1059.7C1575.9,1061.6 1576.5,1063.5 1577.1,1065.4C1577.7,1067.3 1578.3,1069.2 1579.0,1071.1C1579.7,1073.0 1580.3,1074.9 1581.0,1076.8C1581.8,1078.6 1582.6,1080.5 1583.4,1082.3C1584.1,1084.1 1584.9,1086.0 1585.7,1087.8C1586.6,1089.6 1587.4,1091.4 1588.5,1093.1C1589.6,1094.7 1591.1,1096.1 1592.4,1097.5C1593.8,1099.0 1595.2,1100.4 1596.7,1101.7C1598.3,1102.9 1599.9,1104.1 1601.6,1105.2C1603.2,1106.2 1605.0,1107.2 1606.7,1108.2C1608.5,1109.2 1610.2,1110.2 1612.0,1111.1C1613.8,1111.9 1615.7,1112.6 1617.5,1113.2C1619.4,1113.8 1621.4,1114.3 1623.3,1114.9C1625.2,1115.4 1627.1,1116.0 1629.1,1116.5C1631.0,1117.0 1632.9,1117.6 1634.9,1118.0C1636.8,1118.4 1638.8,1118.7 1640.8,1119.1C1642.7,1119.5 1644.7,1119.8 1646.7,1120.1C1648.7,1120.5 1650.6,1120.9 1652.6,1121.2C1654.6,1121.5 1656.5,1121.8 1658.5,1122.2C1660.5,1122.5 1662.5,1122.8 1664.4,1123.1C1666.4,1123.4 1668.4,1123.7 1670.4,1124.0C1672.3,1124.3 1674.3,1124.7 1676.3,1125.0C1678.3,1125.3 1680.3,1125.6 1682.2,1125.9C1684.2,1126.1 1686.2,1126.4 1688.2,1126.7C1690.2,1127.0 1692.1,1127.2 1694.1,1127.5C1696.1,1127.8 1698.1,1128.1 1700.1,1128.4C1702.0,1128.6 1705.0,1129.1 1706.0,1129.2" stroke="#000" stroke-width="5.5"/>
<path d="M197.6,1083.5C198.6,1083.5 201.6,1083.4 203.6,1083.3C205.6,1083.2 207.6,1083.2 209.6,1083.1C211.6,1083.0 213.6,1083.0 215.6,1082.9C217.6,1082.8 219.6,1082.8 221.6,1082.7C223.6,1082.6 225.6,1082.6 227.6,1082.4C229.6,1082.2 231.5,1081.8 233.5,1081.5C235.5,1081.2 237.4,1080.8 239.4,1080.4C241.4,1080.1 243.3,1079.7 245.3,1079.3C247.3,1079.0 249.3,1078.7 251.2,1078.1C253.1,1077.6 254.9,1076.9 256.7,1076.1C258.6,1075.3 260.3,1074.4 262.1,1073.4C263.9,1072.5 265.6,1071.5 267.4,1070.5C269.1,1069.5 270.7,1068.4 272.4,1067.3C274.1,1066.2 275.8,1065.1 277.4,1064.0C279.1,1063.0 280.8,1061.9 282.5,1060.8C284.2,1059.7 285.9,1058.6 287.5,1057.5C289.2,1056.4 290.8,1055.3 292.5,1054.1C294.1,1053.0 295.7,1051.7 297.3,1050.5C298.9,1049.3 300.5,1048.1 302.1,1046.9C303.7,1045.7 305.3,1044.5 306.9,1043.3C308.5,1042.1 310.0,1040.9 311.6,1039.7C313.3,1038.5 314.9,1037.3 316.5,1036.2C318.1,1035.0 319.8,1033.9 321.5,1032.8C323.2,1031.7 324.8,1030.7 326.5,1029.6C328.2,1028.5 329.9,1027.4 331.6,1026.3C333.2,1025.2 334.9,1024.1 336.6,1023.1C338.3,1022.0 339.9,1020.9 341.6,1019.8C343.3,1018.7 345.0,1017.7 346.7,1016.6C348.4,1015.6 350.1,1014.5 351.8,1013.5C353.5,1012.4 355.2,1011.4 356.9,1010.3C358.6,1009.2 360.2,1008.3 362.0,1007.1C363.9,1006.0 366.1,1004.6 368.0,1003.5C369.8,1002.3 371.4,1001.4 373.1,1000.4C374.8,999.3 376.6,998.3 378.3,997.3C380.0,996.3 381.7,995.3 383.4,994.2C385.1,993.1 386.7,992.0 388.3,990.8C389.9,989.5 391.3,988.2 392.8,986.8C394.3,985.5 395.8,984.2 397.2,982.8C398.7,981.4 400.1,980.0 401.4,978.5C402.7,977.0 404.0,975.4 405.3,973.9C406.6,972.4 407.8,970.8 409.1,969.3C410.4,967.8 411.7,966.2 413.0,964.7C414.3,963.2 415.6,961.7 416.9,960.1C418.2,958.6 419.5,957.1 420.8,955.6C422.0,954.0 423.2,952.4 424.4,950.8C425.5,949.1 426.6,947.5 427.6,945.7C428.6,944.0 429.7,942.3 430.6,940.5C431.5,938.8 432.3,936.9 433.1,935.1C434.0,933.3 434.8,931.5 435.6,929.7C436.4,927.8 437.2,926.0 438.0,924.2C438.8,922.3 439.5,920.5 440.3,918.6C441.0,916.8 441.8,914.9 442.5,913.0C443.2,911.2 444.0,909.3 444.7,907.4C445.3,905.6 445.9,903.6 446.4,901.7C447.0,899.8 447.5,897.9 448.0,895.9C448.5,894.0 449.1,892.1 449.6,890.1C450.1,888.2 450.6,886.3 451.1,884.4C451.7,882.4 452.1,880.5 452.6,878.5C453.1,876.6 453.5,874.6 454.0,872.7C454.5,870.7 454.9,868.8 455.4,866.9C455.8,864.9 456.3,863.0 456.7,861.0C457.2,859.1 457.6,857.1 458.1,855.2C458.5,853.2 458.9,851.3 459.4,849.3C459.8,847.3 460.2,845.4 460.7,843.4C461.1,841.5 461.5,839.5 461.9,837.6C462.4,835.6 462.7,833.7 463.1,831.7C463.5,829.7 463.9,827.8 464.3,825.8C464.7,823.9 465.1,821.9 465.4,819.9C465.8,818.0 466.2,816.0 466.6,814.0C467.0,812.1 467.4,810.1 467.8,808.2C468.2,806.2 468.6,804.2 469.0,802.3C469.4,800.3 469.8,798.4 470.2,796.4C470.6,794.4 471.0,792.5 471.4,790.5C471.8,788.6 472.2,786.6 472.6,784.6C473.0,782.7 473.4,780.7 473.8,778.8C474.2,776.8 474.6,774.8 475.0,772.9C475.4,770.9 475.8,769.0 476.2,767.0C476.6,765.1 477.1,763.1 477.5,761.1C477.9,759.2 478.3,757.2 478.8,755.3C479.2,753.3 479.6,751.4 480.0,749.4C480.5,747.5 480.9,745.5 481.3,743.6C481.7,741.6 482.2,739.6 482.6,737.7C483.0,735.7 483.4,733.8 483.9,731.8C484.3,729.9 484.7,727.9 485.2,726.0C485.6,724.0 486.0,722.1 486.5,720.1C486.9,718.2 487.4,716.2 487.8,714.3C488.2,712.3 488.7,710.4 489.1,708.4C489.6,706.5 490.0,704.5 490.5,702.6C491.0,700.6 491.4,698.7 491.9,696.7C492.4,694.8 492.9,692.9 493.4,690.9C493.9,689.0 494.4,687.0 494.8,685.1C495.3,683.2 495.8,681.2 496.4,679.3C496.9,677.4 497.4,675.4 498.0,673.5C498.5,671.6 499.1,669.7 499.6,667.8C500.2,665.8 500.7,664.1 501.3,662.0C501.9,659.9 502.7,657.4 503.3,655.3C504.0,653.2 504.5,651.5 505.1,649.6C505.7,647.6 506.3,645.7 506.9,643.8C507.6,642.0 508.3,640.1 509.0,638.2C509.6,636.3 510.3,634.4 511.1,632.6C511.8,630.7 512.7,628.9 513.5,627.1C514.4,625.3 515.3,623.5 516.2,621.8C517.1,620.0 518.1,618.2 519.0,616.5C520.0,614.7 521.1,613.0 522.1,611.3C523.1,609.6 524.2,607.9 525.2,606.2C526.2,604.5 527.3,602.8 528.3,601.0C529.3,599.3 530.4,597.6 531.4,595.9C532.5,594.2 533.6,592.5 534.7,590.9C535.8,589.2 536.9,587.6 538.2,586.0C539.4,584.5 540.7,582.8 542.2,581.6C543.7,580.4 545.4,579.2 547.1,578.9C548.8,578.6 550.8,579.2 552.3,580.1C553.8,581.0 555.1,582.7 556.1,584.3C557.2,585.9 557.9,587.8 558.6,589.7C559.3,591.6 559.9,593.5 560.4,595.4C561.0,597.3 561.5,599.3 562.0,601.2C562.5,603.1 562.9,605.1 563.4,607.0C563.9,609.0 564.4,610.9 564.9,612.8C565.4,614.8 566.0,616.7 566.5,618.6C567.0,620.5 567.6,622.5 568.1,624.4C568.7,626.3 569.2,628.2 569.8,630.2C570.3,632.1 570.9,634.0 571.5,635.9C572.0,637.8 572.6,639.8 573.2,641.7C573.8,643.6 574.4,645.5 575.0,647.4C575.6,649.3 576.2,651.2 576.8,653.1C577.4,655.0 578.1,656.9 578.7,658.8C579.3,660.7 579.9,662.6 580.5,664.5C581.1,666.4 581.7,668.3 582.2,670.3C582.8,672.2 583.4,674.1 583.9,676.0C584.5,678.0 585.0,679.9 585.6,681.8C586.1,683.7 586.6,685.7 587.1,687.6C587.7,689.5 588.2,691.5 588.7,693.4C589.2,695.3 589.7,697.3 590.2,699.2C590.7,701.1 591.1,703.1 591.6,705.0C592.0,707.0 592.5,708.9 592.9,710.9C593.4,712.8 593.8,714.8 594.3,716.7C594.8,718.7 595.3,720.6 595.8,722.5C596.3,724.5 596.8,726.4 597.3,728.3C597.9,730.3 598.4,732.2 598.9,734.1C599.5,736.0 600.0,738.0 600.6,739.9C601.2,741.8 601.9,743.7 602.5,745.6C603.2,747.4 603.8,749.4 604.5,751.2C605.3,753.1 606.1,754.9 606.9,756.7C607.8,758.5 608.7,760.3 609.8,762.0C610.8,763.6 612.0,765.4 613.3,766.7C614.6,768.1 616.2,769.6 617.8,770.2C619.5,770.8 621.6,770.9 623.3,770.4C624.9,769.9 626.5,768.5 627.7,767.1C629.0,765.7 629.9,763.8 630.8,762.1C631.7,760.3 632.4,758.4 633.1,756.5C633.8,754.7 634.5,752.8 635.1,750.9C635.6,749.0 636.1,747.0 636.6,745.1C637.1,743.1 637.4,741.2 637.8,739.2C638.3,737.2 638.7,735.3 639.1,733.3C639.5,731.4 639.8,729.4 640.2,727.4C640.6,725.5 641.0,723.5 641.4,721.6C641.9,719.6 642.3,717.7 642.9,715.7C643.4,713.8 643.9,712.1 644.5,710.0C645.1,707.9 645.9,705.3 646.5,703.3C647.0,701.2 647.6,699.4 648.1,697.5C648.6,695.6 649.1,693.6 649.6,691.7C650.2,689.8 650.7,687.8 651.2,685.9C651.7,684.0 652.2,682.0 652.7,680.1C653.2,678.1 653.7,676.2 654.2,674.3C654.7,672.3 655.1,670.4 655.6,668.4C656.0,666.5 656.4,664.5 656.9,662.6C657.4,660.6 657.9,658.7 658.5,656.8C659.1,654.9 659.8,653.0 660.5,651.1C661.1,649.3 661.8,647.4 662.5,645.5C663.3,643.7 664.0,641.8 664.8,640.0C665.6,638.1 666.5,636.4 667.4,634.6C668.3,632.8 669.2,631.0 670.1,629.2C671.0,627.4 671.9,625.6 672.8,623.9C673.7,622.1 674.6,620.3 675.6,618.5C676.5,616.8 677.5,615.0 678.6,613.4C679.8,611.8 681.0,610.2 682.4,608.8C683.8,607.3 685.2,605.9 686.8,604.8C688.5,603.8 690.2,602.9 692.1,602.3C693.9,601.6 696.0,601.4 697.9,601.2C699.9,601.0 701.9,601.1 703.9,601.2C705.8,601.3 707.8,601.6 709.8,601.9C711.8,602.2 713.8,602.5 715.7,602.8C717.7,603.2 719.7,603.6 721.6,604.0C723.6,604.4 725.5,604.9 727.5,605.4C729.4,605.9 731.3,606.5 733.2,607.1C735.1,607.7 737.0,608.3 738.9,609.0C740.7,609.7 742.6,610.5 744.4,611.3C746.2,612.2 748.1,613.0 749.8,613.9C751.6,614.8 753.3,615.9 755.0,616.9C756.7,618.0 758.4,619.1 760.0,620.2C761.7,621.3 763.3,622.4 764.9,623.7C766.5,624.9 768.0,626.2 769.5,627.4C771.1,628.7 772.6,630.0 774.1,631.3C775.6,632.7 777.0,634.1 778.5,635.5C779.9,636.9 781.3,638.3 782.7,639.7C784.0,641.2 785.4,642.7 786.7,644.2C787.9,645.7 789.1,647.3 790.4,648.9C791.6,650.5 792.8,652.1 794.0,653.7C795.1,655.3 796.2,657.0 797.4,658.6C798.5,660.3 799.6,662.0 800.7,663.7C801.7,665.4 802.7,667.1 803.7,668.8C804.7,670.6 805.6,672.3 806.6,674.1C807.5,675.9 808.4,677.6 809.4,679.4C810.3,681.2 811.2,683.0 812.1,684.8C813.0,686.5 813.9,688.3 814.8,690.1C815.6,691.9 816.4,693.7 817.3,695.6C818.1,697.4 818.9,699.2 819.7,701.0C820.6,702.9 821.4,704.7 822.1,706.5C822.9,708.4 823.7,710.2 824.4,712.1C825.2,713.9 825.9,715.8 826.7,717.6C827.4,719.5 828.2,721.4 828.9,723.2C829.6,725.1 830.4,726.9 831.1,728.8C831.9,730.6 832.6,732.5 833.4,734.4C834.1,736.2 834.9,738.1 835.6,739.9C836.2,741.8 836.8,743.7 837.4,745.6C838.0,747.6 838.5,749.5 839.1,751.4C839.6,753.3 840.2,755.2 840.8,757.2C841.3,759.1 841.9,761.0 842.4,762.9C843.0,764.8 843.5,766.8 844.1,768.7C844.7,770.6 845.3,772.5 845.9,774.4C846.5,776.3 847.2,778.2 847.9,780.1C848.6,782.0 849.2,783.7 849.9,785.7C850.6,787.8 851.5,790.3 852.2,792.3C853.0,794.4 853.6,796.1 854.3,798.0C854.9,799.9 855.6,801.7 856.3,803.6C857.0,805.5 857.7,807.4 858.4,809.2C859.2,811.1 860.0,812.9 860.8,814.7C861.7,816.5 862.5,818.4 863.4,820.2C864.2,822.0 865.1,823.7 866.1,825.5C867.0,827.3 868.0,829.0 868.9,830.8C869.9,832.5 870.9,834.3 871.9,836.0C872.9,837.7 874.0,839.4 875.0,841.1C876.1,842.8 877.2,844.5 878.2,846.2C879.3,847.8 880.4,849.5 881.5,851.2C882.7,852.8 883.8,854.5 885.0,856.1C886.1,857.7 887.3,859.4 888.4,861.0C889.6,862.7 890.7,864.3 891.8,866.0C892.9,867.6 894.0,869.3 895.2,870.9C896.3,872.5 897.6,874.1 898.9,875.6C900.2,877.1 901.6,878.5 903.1,879.8C904.6,881.1 906.2,882.4 907.9,883.3C909.6,884.3 911.5,885.4 913.3,885.7C915.1,886.0 917.0,885.7 918.8,885.2C920.5,884.6 922.2,883.3 923.8,882.1C925.4,881.0 926.9,879.6 928.4,878.3C929.9,877.0 931.3,875.6 932.7,874.1C934.2,872.7 935.5,871.3 936.9,869.8C938.3,868.4 939.6,866.9 941.0,865.5C942.4,864.0 943.9,862.6 945.3,861.2C946.7,859.8 948.1,858.4 949.5,857.0C950.9,855.6 952.3,854.1 953.7,852.7C955.1,851.2 956.4,849.7 957.8,848.3C959.1,846.8 960.5,845.3 961.8,843.8C963.1,842.3 964.5,840.9 965.8,839.4C967.2,837.9 968.5,836.4 969.8,834.9C971.1,833.4 972.5,831.9 973.7,830.4C974.9,828.8 976.0,827.1 977.0,825.4C978.0,823.7 978.7,821.7 979.7,820.1C980.7,818.4 981.8,816.7 983.1,815.3C984.4,813.8 986.2,812.8 987.7,811.5C989.1,810.1 990.6,808.9 991.6,807.3C992.6,805.7 993.1,803.7 993.7,801.8C994.3,799.9 994.8,798.0 995.3,796.0C995.8,794.1 996.2,792.1 996.6,790.2C997.0,788.2 997.2,786.2 997.6,784.3C997.9,782.3 998.1,780.3 998.6,778.3C999.0,776.4 999.4,774.5 1000.1,772.6C1000.9,770.8 1002.0,769.2 1003.0,767.5C1004.1,765.8 1005.2,764.1 1006.3,762.4C1007.4,760.8 1008.4,759.1 1009.5,757.4C1010.7,755.8 1011.8,754.1 1013.0,752.5C1014.2,750.9 1015.4,749.3 1016.6,747.7C1017.9,746.2 1019.1,744.5 1020.3,743.0C1021.5,741.4 1022.8,739.8 1024.0,738.3C1025.3,736.8 1026.7,735.3 1028.0,733.8C1029.4,732.3 1030.7,730.8 1032.1,729.4C1033.5,728.0 1034.8,726.5 1036.4,725.4C1038.0,724.2 1039.8,723.3 1041.6,722.6C1043.4,721.8 1045.3,721.2 1047.2,721.0C1049.2,720.7 1051.2,721.1 1053.2,721.1C1055.1,721.2 1057.2,721.4 1059.1,721.2C1061.1,721.0 1063.1,720.7 1064.9,720.0C1066.6,719.3 1068.2,718.2 1069.7,716.9C1071.1,715.6 1072.4,714.0 1073.6,712.4C1074.9,710.9 1076.0,709.2 1077.1,707.6C1078.3,705.9 1079.2,704.4 1080.4,702.5C1081.5,700.7 1083.0,698.5 1084.1,696.6C1085.2,694.8 1086.2,693.2 1087.1,691.4C1088.0,689.6 1088.7,687.8 1089.6,686.0C1090.4,684.1 1091.2,682.3 1092.0,680.5C1092.8,678.7 1093.6,676.8 1094.4,675.0C1095.3,673.2 1096.1,671.4 1097.0,669.6C1097.9,667.8 1098.9,666.1 1099.9,664.3C1100.9,662.6 1101.9,660.9 1102.9,659.1C1103.9,657.4 1104.9,655.7 1105.9,653.9C1106.9,652.2 1107.9,650.5 1108.9,648.8C1109.9,647.1 1110.9,645.3 1112.0,643.6C1113.1,642.0 1114.3,640.4 1115.5,638.8C1116.8,637.3 1118.3,635.9 1119.7,634.5C1121.1,633.1 1122.5,631.7 1124.0,630.3C1125.5,629.0 1126.9,627.6 1128.5,626.4C1130.1,625.3 1131.8,624.1 1133.6,623.6C1135.4,623.0 1137.4,622.8 1139.3,623.1C1141.2,623.3 1143.1,624.0 1144.8,624.9C1146.6,625.8 1148.1,627.1 1149.7,628.3C1151.2,629.5 1152.7,630.9 1154.2,632.3C1155.6,633.6 1157.0,635.1 1158.4,636.5C1159.7,638.0 1161.1,639.5 1162.4,641.0C1163.7,642.5 1165.0,644.0 1166.2,645.6C1167.5,647.2 1168.6,648.8 1169.8,650.4C1170.9,652.1 1172.1,653.7 1173.2,655.4C1174.2,657.0 1175.2,658.8 1176.1,660.6C1176.9,662.4 1177.7,664.2 1178.4,666.1C1179.2,667.9 1180.0,669.7 1180.8,671.6C1181.5,673.5 1182.3,675.3 1182.9,677.2C1183.6,679.1 1184.2,681.0 1184.8,682.9C1185.4,684.8 1186.0,686.7 1186.6,688.6C1187.2,690.5 1187.8,692.4 1188.4,694.3C1189.0,696.3 1189.6,698.2 1190.2,700.1C1190.8,702.0 1191.4,703.9 1192.0,705.8C1192.6,707.7 1193.1,709.6 1193.8,711.5C1194.4,713.4 1195.0,715.3 1195.6,717.2C1196.2,719.1 1196.9,721.0 1197.5,722.9C1198.2,724.8 1198.9,726.7 1199.5,728.6C1200.2,730.5 1200.8,732.4 1201.5,734.3C1202.1,736.1 1202.8,738.0 1203.4,739.9C1204.1,741.8 1204.7,743.7 1205.3,745.6C1205.9,747.5 1206.5,749.4 1207.1,751.4C1207.7,753.3 1208.2,755.2 1208.9,757.1C1209.6,758.9 1210.3,760.8 1211.2,762.5C1212.2,764.2 1213.4,766.0 1214.6,767.4C1215.9,768.8 1217.2,770.3 1218.8,771.0C1220.4,771.8 1222.5,771.7 1224.4,771.8C1226.4,771.8 1228.4,771.7 1230.3,771.3C1232.2,770.9 1234.1,770.1 1235.9,769.4C1237.8,768.7 1239.6,767.7 1241.4,767.1C1243.3,766.5 1245.3,766.1 1247.2,765.8C1249.2,765.5 1251.2,765.2 1253.2,765.2C1255.2,765.1 1257.1,765.2 1259.0,765.5C1261.0,765.9 1262.9,766.6 1264.8,767.2C1266.6,767.9 1268.6,768.5 1270.3,769.4C1272.0,770.3 1273.6,771.5 1275.2,772.7C1276.8,773.9 1278.4,775.2 1279.9,776.5C1281.4,777.8 1282.9,779.1 1284.3,780.5C1285.7,781.9 1287.0,783.5 1288.3,785.0C1289.6,786.5 1290.8,788.1 1292.1,789.6C1293.4,791.1 1294.7,792.7 1295.9,794.2C1297.1,795.8 1298.3,797.4 1299.5,799.1C1300.6,800.7 1301.7,802.2 1303.0,803.9C1304.2,805.7 1305.8,807.9 1307.0,809.6C1308.3,811.4 1309.3,812.9 1310.4,814.6C1311.5,816.3 1312.6,818.0 1313.6,819.6C1314.7,821.3 1315.8,823.0 1316.9,824.7C1318.0,826.4 1319.0,828.1 1320.2,829.7C1321.3,831.4 1322.4,833.0 1323.6,834.7C1324.7,836.3 1325.9,837.9 1327.0,839.6C1328.1,841.2 1329.2,842.9 1330.3,844.6C1331.3,846.3 1332.3,848.1 1333.3,849.8C1334.3,851.5 1335.2,853.3 1336.2,855.0C1337.2,856.7 1338.2,858.5 1339.3,860.2C1340.4,861.8 1341.6,863.5 1342.7,865.1C1343.8,866.7 1345.0,868.4 1346.2,870.0C1347.3,871.6 1348.5,873.3 1349.7,874.9C1350.8,876.5 1352.0,878.1 1353.2,879.7C1354.4,881.3 1355.6,882.9 1356.9,884.5C1358.1,886.1 1359.3,887.7 1360.5,889.2C1361.8,890.8 1363.0,892.4 1364.3,893.9C1365.6,895.3 1367.1,896.7 1368.6,898.0C1370.0,899.4 1371.5,900.7 1373.0,902.1C1374.6,903.4 1376.1,904.7 1377.6,905.9C1379.2,907.2 1380.8,908.3 1382.5,909.5C1384.1,910.6 1385.7,911.9 1387.4,912.9C1389.1,913.9 1390.9,914.8 1392.7,915.5C1394.5,916.3 1396.5,916.8 1398.4,917.4C1400.3,918.0 1402.2,918.7 1404.1,919.1C1406.0,919.5 1408.0,919.7 1410.0,919.9C1412.0,920.0 1414.0,920.1 1416.0,920.2C1418.0,920.2 1420.0,920.1 1422.0,920.0C1423.9,919.8 1425.9,919.4 1427.9,919.0C1429.9,918.7 1431.8,918.4 1433.8,918.0C1435.8,917.6 1437.7,917.1 1439.6,916.7C1441.6,916.2 1443.5,915.6 1445.5,915.3C1447.4,914.9 1449.4,914.7 1451.4,914.6C1453.4,914.5 1455.4,914.5 1457.4,914.7C1459.3,914.9 1461.2,915.4 1463.1,916.0C1464.9,916.7 1466.8,917.6 1468.3,918.7C1469.9,919.8 1471.3,921.2 1472.5,922.7C1473.8,924.2 1474.8,926.0 1475.9,927.6C1476.9,929.3 1477.9,931.1 1478.8,932.9C1479.7,934.6 1480.4,936.5 1481.2,938.4C1481.9,940.2 1482.7,942.0 1483.4,943.9C1484.2,945.8 1484.8,947.7 1485.4,949.6C1486.0,951.5 1486.6,953.4 1487.1,955.3C1487.7,957.2 1488.3,959.2 1488.8,961.1C1489.4,963.0 1490.0,964.9 1490.5,966.8C1491.1,968.8 1491.6,970.7 1492.2,972.6C1492.7,974.5 1493.2,976.5 1493.6,978.4C1494.1,980.4 1494.6,982.3 1495.1,984.2C1495.6,986.2 1496.1,988.1 1496.5,990.1C1497.0,992.0 1497.5,993.9 1498.0,995.9C1498.4,997.8 1498.9,999.8 1499.3,1001.7C1499.8,1003.7 1500.2,1005.6 1500.7,1007.6C1501.1,1009.5 1501.5,1011.5 1502.0,1013.4C1502.4,1015.4 1502.8,1017.3 1503.3,1019.3C1503.8,1021.2 1504.4,1023.1 1504.9,1025.1C1505.4,1027.0 1506.0,1028.9 1506.5,1030.8C1507.1,1032.8 1507.6,1034.7 1508.2,1036.6C1508.9,1038.5 1509.6,1040.3 1510.4,1042.2C1511.1,1044.0 1511.9,1045.9 1512.7,1047.7C1513.5,1049.6 1514.3,1051.4 1515.1,1053.2C1516.0,1055.0 1516.8,1056.8 1517.7,1058.6C1518.6,1060.4 1519.4,1062.3 1520.4,1064.0C1521.4,1065.7 1522.4,1067.2 1523.8,1068.8C1525.2,1070.4 1527.2,1072.2 1528.9,1073.6C1530.5,1074.9 1532.0,1076.1 1533.6,1077.1C1535.3,1078.2 1537.1,1079.0 1538.9,1079.9C1540.7,1080.8 1542.5,1081.7 1544.3,1082.5C1546.1,1083.4 1548.0,1084.1 1549.9,1084.8C1551.7,1085.4 1553.7,1085.9 1555.6,1086.5C1557.5,1087.1 1559.4,1087.6 1561.4,1088.2C1563.3,1088.7 1565.2,1089.3 1567.2,1089.7C1569.1,1090.1 1571.1,1090.5 1573.0,1090.8C1575.0,1091.2 1577.0,1091.5 1579.0,1091.8C1580.9,1092.1 1582.9,1092.4 1584.9,1092.7C1586.9,1093.0 1588.8,1093.3 1590.8,1093.5C1592.8,1093.8 1594.8,1093.9 1596.8,1094.1C1598.8,1094.3 1600.8,1094.4 1602.8,1094.6C1604.8,1094.7 1606.8,1094.9 1608.8,1095.0C1610.8,1095.2 1612.8,1095.4 1614.8,1095.5C1616.7,1095.6 1618.7,1095.6 1620.7,1095.7C1622.7,1095.8 1624.7,1095.8 1626.7,1095.8C1628.7,1095.9 1630.7,1095.9 1632.7,1095.9C1634.7,1096.0 1636.7,1096.0 1638.7,1096.0C1640.7,1096.0 1642.7,1096.0 1644.7,1096.0C1646.7,1096.0 1648.7,1095.9 1650.7,1095.9C1652.7,1095.8 1654.7,1095.8 1656.7,1095.7C1658.7,1095.6 1660.7,1095.5 1662.7,1095.3C1664.7,1095.1 1666.7,1094.8 1668.7,1094.6C1670.6,1094.3 1672.6,1094.0 1674.6,1093.7C1676.6,1093.4 1678.5,1093.0 1680.5,1092.6C1682.4,1092.1 1684.3,1091.5 1686.3,1091.0C1688.2,1090.5 1690.1,1089.9 1692.1,1089.4C1694.0,1088.9 1695.9,1088.4 1697.8,1087.9C1699.8,1087.4 1701.7,1086.9 1703.7,1086.4C1705.6,1085.9 1708.5,1085.2 1709.5,1085.0" stroke="#ff0000" stroke-width="5.9"/>
</g>
<text x="195.4" y="1244.3" class="tl">150</text>
<text x="422.5" y="1244.3" class="tl">300</text>
<text x="649.6" y="1244.3" class="tl">450</text>
<text x="876.7" y="1244.3" class="tl">600</text>
<text x="1103.8" y="1244.3" class="tl">750</text>
<text x="1330.9" y="1244.3" class="tl">900</text>
<text x="1558.0" y="1244.3" class="tl">1050</text>

<g transform="translate(0,1378) scale(1,1.05)"><text x="606" y="0" class="ttl" style="font-size:87.7px" id="xt">Temperature <tspan x="1152">(</tspan></text></g>
<text transform="matrix(1.0075 0 0 0.8597 1181.19 1328.56)" style="font-size:52px;stroke:#000;stroke-width:0.8px">o</text>
<g transform="translate(0,1378) scale(1,1.05)"><text x="1209" y="0" class="ttl" style="font-size:87.7px">C<tspan x="1274.5">)</tspan></text></g>
<g transform="translate(111.5,1034.5) rotate(-90) scale(1,1.05)"><text x="0" y="0" class="ttl" style="font-size:88.8px" id="yt">H<tspan x="62" font-size="56" font-weight="normal" dy="35">2</tspan><tspan x="95" dy="-35">-TPR signal (a.u.)</tspan></text></g>
<line x1="1162" y1="106.7" x2="1288.5" y2="106.7" stroke="#000" stroke-width="9.5"/>
<line x1="1162" y1="200.5" x2="1288.5" y2="200.5" stroke="#ff0000" stroke-width="9.5"/>
<text transform="matrix(1.0176 0 0 1.0150 1302.31 125.10)" style="font-size:60px;stroke:#000;stroke-width:2.0px">LaNi</text>
<text transform="matrix(0.9585 0 0 0.9752 1426.39 149.46)" style="font-size:36px;stroke:#000;stroke-width:0.4px">0.8</text>
<text transform="matrix(0.9562 0 0 1.0150 1473.55 125.10)" style="font-size:60px;stroke:#000;stroke-width:2.0px">Fe</text>
<text transform="matrix(0.9732 0 0 0.9752 1540.07 149.46)" style="font-size:36px;stroke:#000;stroke-width:0.4px">0.2</text>
<text transform="matrix(0.9543 0 0 1.0150 1588.41 125.10)" style="font-size:60px;stroke:#000;stroke-width:2.0px">O</text>
<text transform="matrix(1.0606 0 0 0.9779 1631.55 149.51)" style="font-size:36px;stroke:#000;stroke-width:0.4px">3</text>
<text transform="matrix(1.0176 0 0 1.0150 1302.31 218.30)" style="font-size:60px;stroke:#000;stroke-width:2.0px">LaNi</text>
<text transform="matrix(0.9585 0 0 0.9752 1426.39 242.66)" style="font-size:36px;stroke:#000;stroke-width:0.4px">0.8</text>
<text transform="matrix(1.0112 0 0 1.0150 1473.33 218.30)" style="font-size:60px;stroke:#000;stroke-width:2.0px">Mn</text>
<text transform="matrix(0.9732 0 0 0.9752 1556.97 242.66)" style="font-size:36px;stroke:#000;stroke-width:0.4px">0.2</text>
<text transform="matrix(0.9566 0 0 1.0150 1605.20 218.30)" style="font-size:60px;stroke:#000;stroke-width:2.0px">O</text>
<text transform="matrix(1.0318 0 0 0.9779 1648.99 242.71)" style="font-size:36px;stroke:#000;stroke-width:0.4px">3</text>

</svg>
</body>
</html>
